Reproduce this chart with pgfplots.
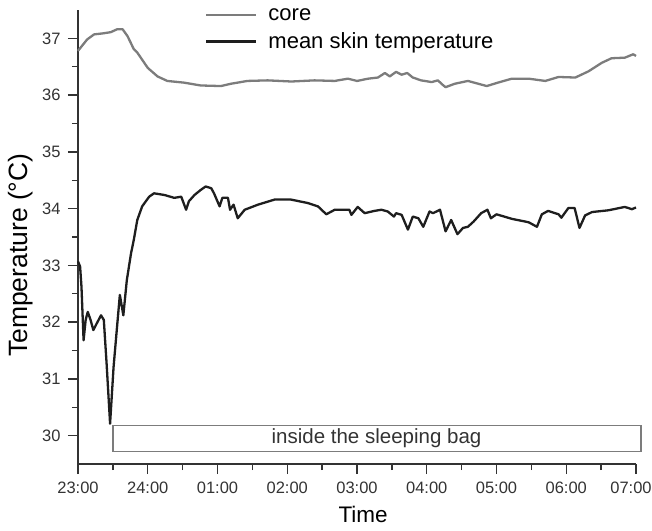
\documentclass[border=0pt]{standalone}
\usepackage{fontspec}
\setmainfont{Liberation Sans}
\usepackage{pgfplots}
\pgfplotsset{compat=1.18}
\definecolor{coregray}{HTML}{7C7C7C}
\definecolor{skinblack}{HTML}{1E1E1E}
\definecolor{axisgray}{HTML}{333333}
\begin{document}
\begin{tikzpicture}
\begin{axis}[
  at={(0pt,0pt)}, anchor=south west,
  scale only axis, width=558pt, height=454pt,
  xmin=23, xmax=31, ymin=29.5, ymax=37.5,
  axis lines*=left,
  tick align=outside,
  major tick length=10pt, minor tick length=6pt,
  xtick={23,...,31},
  xticklabels={23:00,24:00,01:00,02:00,03:00,04:00,05:00,06:00,\hspace*{-10pt}07:00},
  ytick={30,...,37},
  minor x tick num=1, minor y tick num=1,
  tick style={axisgray, line width=1.4pt},
  axis line style={axisgray, line width=1.4pt},
  every tick label/.append style={font=\fontsize{16.5}{18}\selectfont, text=axisgray},
  xticklabel style={yshift=-4pt},
  yticklabel style={xshift=-4pt},
  /pgf/number format/assume math mode=true,
  clip=false,
  xlabel={Time}, ylabel={Temperature (°C)},
  xlabel style={at={(axis description cs:0.511,-0.112)}, anchor=center, font=\fontsize{22.5}{24}\selectfont},
  ylabel style={at={(axis description cs:-0.103,0.46)}, anchor=center, font=\fontsize{26.5}{28}\selectfont},
  legend style={at={(axis description cs:0.2275,1.008)}, anchor=north west, draw=none, fill=none,
    font=\fontsize{22}{24}\selectfont, row sep=7pt, inner sep=0pt},
  legend cell align=left,
  legend image code/.code={\draw[#1] (0pt,0pt) -- (50pt,0pt);},
]
\addplot[coregray, line width=2.3pt, line join=round] coordinates {
(23.00,36.78)(23.13,36.98)(23.23,37.07)(23.37,37.09)(23.47,37.11)(23.56,37.16)(23.64,37.16)(23.71,37.04)(23.80,36.81)(23.85,36.75)(24.00,36.48)(24.14,36.33)(24.28,36.25)(24.52,36.22)(24.76,36.17)(25.05,36.16)(25.19,36.20)(25.43,36.25)(25.72,36.26)(26.06,36.24)(26.39,36.26)(26.68,36.25)(26.87,36.29)(27.00,36.25)(27.16,36.29)(27.30,36.31)(27.40,36.39)(27.47,36.33)(27.56,36.41)(27.64,36.36)(27.72,36.39)(27.80,36.31)(27.92,36.26)(28.07,36.23)(28.16,36.26)(28.22,36.19)(28.27,36.14)(28.40,36.20)(28.59,36.25)(28.74,36.20)(28.86,36.16)(29.02,36.22)(29.22,36.29)(29.46,36.29)(29.70,36.25)(29.89,36.32)(30.13,36.31)(30.32,36.42)(30.51,36.57)(30.65,36.65)(30.84,36.66)(30.96,36.72)(31.00,36.69)
};
\addlegendentry{\hspace*{9pt}core}
\addplot[skinblack, line width=2.3pt, line join=round] coordinates {
(23.00,33.07)(23.03,32.98)(23.05,32.62)(23.08,31.68)(23.11,32.04)(23.14,32.18)(23.18,32.04)(23.22,31.86)(23.27,31.98)(23.33,32.12)(23.37,32.04)(23.41,31.27)(23.46,30.21)(23.51,31.21)(23.56,31.92)(23.60,32.48)(23.65,32.12)(23.70,32.74)(23.76,33.21)(23.80,33.45)(23.85,33.80)(23.92,34.04)(24.02,34.21)(24.09,34.27)(24.24,34.24)(24.38,34.19)(24.48,34.21)(24.55,33.98)(24.59,34.13)(24.67,34.24)(24.76,34.33)(24.83,34.39)(24.91,34.36)(24.95,34.27)(25.03,34.04)(25.07,34.19)(25.15,34.19)(25.18,33.98)(25.23,34.07)(25.29,33.83)(25.39,33.98)(25.58,34.07)(25.82,34.16)(26.05,34.16)(26.29,34.10)(26.44,34.04)(26.56,33.90)(26.68,33.98)(26.89,33.98)(26.92,33.89)(27.01,34.03)(27.11,33.92)(27.25,33.96)(27.35,33.98)(27.44,33.95)(27.53,33.86)(27.56,33.92)(27.64,33.89)(27.73,33.63)(27.80,33.86)(27.88,33.83)(27.95,33.68)(28.04,33.95)(28.09,33.92)(28.19,33.98)(28.27,33.60)(28.35,33.80)(28.44,33.55)(28.52,33.66)(28.59,33.68)(28.67,33.77)(28.78,33.92)(28.87,33.98)(28.92,33.83)(29.00,33.90)(29.22,33.82)(29.46,33.76)(29.58,33.68)(29.65,33.90)(29.74,33.96)(29.89,33.90)(29.93,33.84)(30.03,34.01)(30.12,34.01)(30.19,33.66)(30.27,33.88)(30.37,33.94)(30.60,33.97)(30.84,34.03)(30.94,33.99)(31.00,34.02)
};
\addlegendentry{\hspace*{9pt}mean skin temperature}
\draw[coregray, line width=1.3pt] (axis cs:23.5,29.72) rectangle (axis cs:31.07,30.18);
\node[font=\fontsize{20.5}{22}\selectfont, text=axisgray] at (axis cs:27.28,29.95) {inside the sleeping bag};
\end{axis}
\pgfresetboundingbox
\useasboundingbox (-78pt,-66pt) rectangle (574pt,464pt);
\end{tikzpicture}
\end{document}
